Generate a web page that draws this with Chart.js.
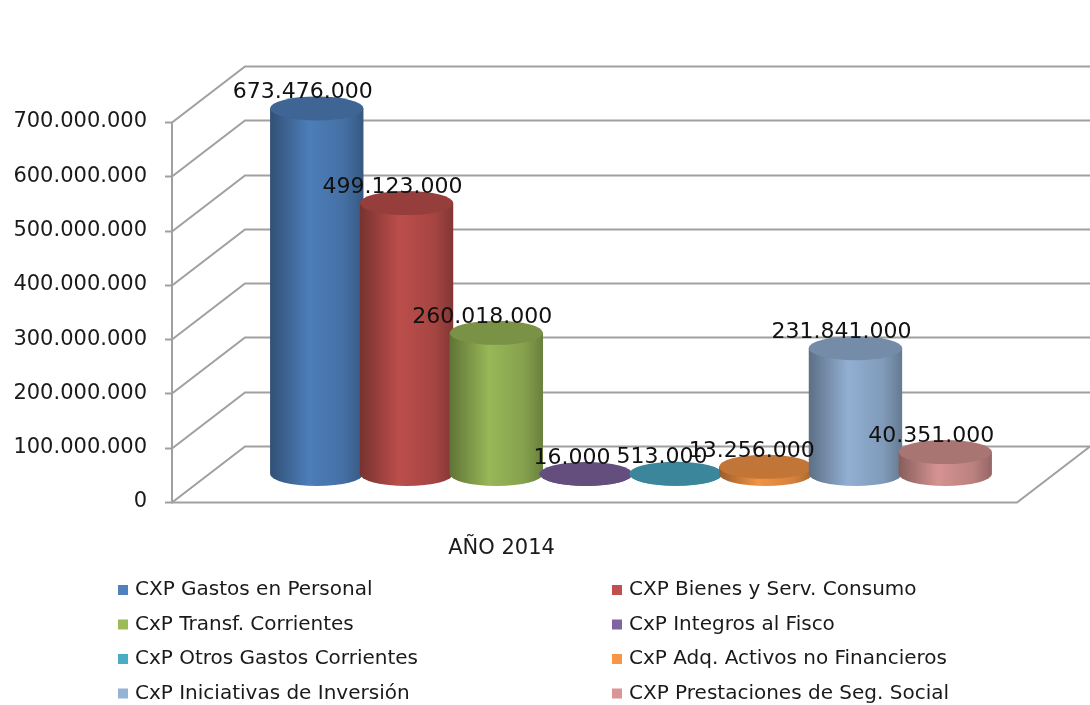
<!DOCTYPE html>
<html>
<head>
<meta charset="utf-8">
<script src="https://cdn.jsdelivr.net/npm/chart.js@4.4.1/dist/chart.umd.min.js"></script>
<style>
  html, body { margin: 0; padding: 0; background: #fff; }
  #wrap { width: 1090px; height: 705px; }
</style>
</head>
<body>
<div id="wrap"><canvas id="cxpChart" width="1090" height="705"></canvas></div>
<script>
// --- Data ---
const categories = ['AÑO 2014'];
const seriesNames = [
    'CXP Gastos en Personal',
    'CXP Bienes y Serv. Consumo',
    'CxP Transf. Corrientes',
    'CxP Integros al Fisco',
    'CxP Otros Gastos Corrientes',
    'CxP Adq. Activos no Financieros',
    'CxP Iniciativas de Inversión',
    'CXP Prestaciones de Seg. Social'
];
const seriesValues = [673476000, 499123000, 260018000, 16000, 513000, 13256000, 231841000, 40351000];
const seriesColors = ['#4F81BD', '#C0504D', '#9BBB59', '#8064A2', '#4BACC6', '#F79646', '#95B3D7', '#D99694'];
const yTicks = [0, 100000000, 200000000, 300000000, 400000000, 500000000, 600000000, 700000000];

// --- Look ---
const FONT = '"DejaVu Sans", "Liberation Sans", sans-serif';
const DEPTH_X = 73;   // oblique offset of back wall
const DEPTH_Y = -56;
const GRID_COLOR = '#a0a0a0';

// thousands with dots, like 673.476.000
function fmtMiles(v) {
    return String(Math.round(v)).replace(/\B(?=(\d{3})+(?!\d))/g, '.');
}

function shade(hex, f) {
    const n = parseInt(hex.slice(1), 16);
    const r = Math.min(255, Math.round(((n >> 16) & 255) * f));
    const g = Math.min(255, Math.round(((n >> 8) & 255) * f));
    const b = Math.min(255, Math.round((n & 255) * f));
    return `rgb(${r},${g},${b})`;
}

// back walls + floor, drawn behind the cylinders
const wallsPlugin = {
    id: 'walls3d',
    beforeDatasetsDraw(chart) {
        const ctx = chart.ctx;
        const y = chart.scales.y;
        const area = chart.chartArea;
        const right = chart.width + 5;
        ctx.save();
        ctx.strokeStyle = GRID_COLOR;
        ctx.lineWidth = 2;
        yTicks.forEach(v => {
            const py = Math.round(y.getPixelForValue(v)) + 0.5;
            ctx.beginPath();
            ctx.moveTo(area.left - 7, py);
            ctx.lineTo(area.left, py);
            ctx.lineTo(area.left + DEPTH_X, py + DEPTH_Y);
            ctx.lineTo(right, py + DEPTH_Y);
            ctx.stroke();
        });
        // front axis line
        const top = y.getPixelForValue(yTicks[yTicks.length - 1]);
        const base = Math.round(y.getPixelForValue(0)) + 0.5;
        ctx.beginPath();
        ctx.moveTo(area.left, top);
        ctx.lineTo(area.left, base);
        // floor front edge and right side
        ctx.lineTo(area.right, base);
        ctx.lineTo(area.right + DEPTH_X, base + DEPTH_Y);
        ctx.stroke();
        ctx.restore();
    }
};

function drawCylinder(ctx, cx, topY, baseY, rx, ry, color) {
    const grad = ctx.createLinearGradient(cx - rx, 0, cx + rx, 0);
    grad.addColorStop(0, shade(color, 0.62));
    grad.addColorStop(0.42, shade(color, 0.98));
    grad.addColorStop(0.8, shade(color, 0.86));
    grad.addColorStop(1, shade(color, 0.68));
    ctx.beginPath();
    ctx.moveTo(cx - rx, topY);
    ctx.lineTo(cx - rx, baseY);
    ctx.ellipse(cx, baseY, rx, ry, 0, Math.PI, 0, true);
    ctx.lineTo(cx + rx, topY);
    ctx.closePath();
    ctx.fillStyle = grad;
    ctx.fill();

    ctx.beginPath();
    ctx.ellipse(cx, topY, rx, ry, 0, 0, Math.PI * 2);
    ctx.fillStyle = shade(color, 0.78);
    ctx.fill();
}

// cylinders + value labels, placed mid-depth from the bar elements
const cylindersPlugin = {
    id: 'cylinders',
    afterDatasetsDraw(chart) {
        const ctx = chart.ctx;
        const midX = DEPTH_X / 2, midY = DEPTH_Y / 2;
        ctx.save();
        chart.data.datasets.forEach((ds, i) => {
            const meta = chart.getDatasetMeta(i);
            meta.data.forEach(el => {
                const p = el.getProps(['x', 'y', 'base', 'width'], true);
                drawCylinder(ctx, p.x + midX, p.y + midY, p.base + midY, p.width * 0.52, 12, ds.cylColor);
            });
        });
        ctx.font = '22px ' + FONT;
        ctx.fillStyle = '#111';
        ctx.textAlign = 'center';
        ctx.textBaseline = 'middle';
        chart.data.datasets.forEach((ds, i) => {
            const meta = chart.getDatasetMeta(i);
            meta.data.forEach((el, j) => {
                const p = el.getProps(['x', 'y'], true);
                ctx.fillText(fmtMiles(ds.data[j]), p.x + midX - 14, p.y + midY - 16);
            });
        });
        ctx.restore();
    }
};

// two-column legend under the chart
const legendPlugin = {
    id: 'legend2col',
    afterDraw(chart) {
        const ctx = chart.ctx;
        const colX = [118, 612];
        const rowY = [590, 624.5, 659, 693.5];
        ctx.save();
        ctx.font = '20px ' + FONT;
        ctx.textBaseline = 'middle';
        ctx.textAlign = 'left';
        seriesNames.forEach((name, i) => {
            const x = colX[i % 2];
            const y = rowY[Math.floor(i / 2)];
            ctx.fillStyle = seriesColors[i];
            ctx.fillRect(x, y - 5, 10, 10);
            ctx.fillStyle = '#1a1a1a';
            ctx.fillText(name, x + 17, y);
        });
        ctx.restore();
    }
};

document.addEventListener('DOMContentLoaded', function() {
    const ctx = document.getElementById('cxpChart');
    if (!ctx) {
        console.error('Chart canvas not found.');
        return;
    }

    const datasets = seriesNames.map((name, i) => ({
        label: name,
        data: [seriesValues[i]],
        backgroundColor: 'rgba(0,0,0,0)',
        borderWidth: 0,
        cylColor: seriesColors[i]
    }));

    new Chart(ctx, {
        type: 'bar',
        data: { labels: categories, datasets: datasets },
        options: {
            responsive: false,
            animation: false,
            devicePixelRatio: 1,
            layout: { padding: { top: 122, right: 73, left: 0, bottom: 0 } },
            datasets: { bar: { categoryPercentage: 0.85, barPercentage: 1.0 } },
            scales: {
                x: {
                    grid: { display: false, drawTicks: false },
                    border: { display: false },
                    ticks: {
                        padding: 34,
                        labelOffset: -93,
                        color: '#1a1a1a',
                        font: { family: FONT, size: 21 }
                    },
                    afterFit: function(scale) { scale.height = 203; }
                },
                y: {
                    min: 0,
                    max: 700000000,
                    grid: { display: false, drawTicks: false },
                    border: { display: false },
                    afterBuildTicks: function(scale) {
                        scale.ticks = yTicks.map(v => ({ value: v }));
                    },
                    ticks: {
                        padding: 25,
                        color: '#1a1a1a',
                        font: { family: FONT, size: 21 },
                        callback: function(value) { return fmtMiles(value); }
                    },
                    afterFit: function(scale) { scale.width = 172; }
                }
            },
            plugins: {
                legend: { display: false },
                tooltip: { enabled: false }
            }
        },
        plugins: [wallsPlugin, cylindersPlugin, legendPlugin]
    });
});
</script>
</body>
</html>
